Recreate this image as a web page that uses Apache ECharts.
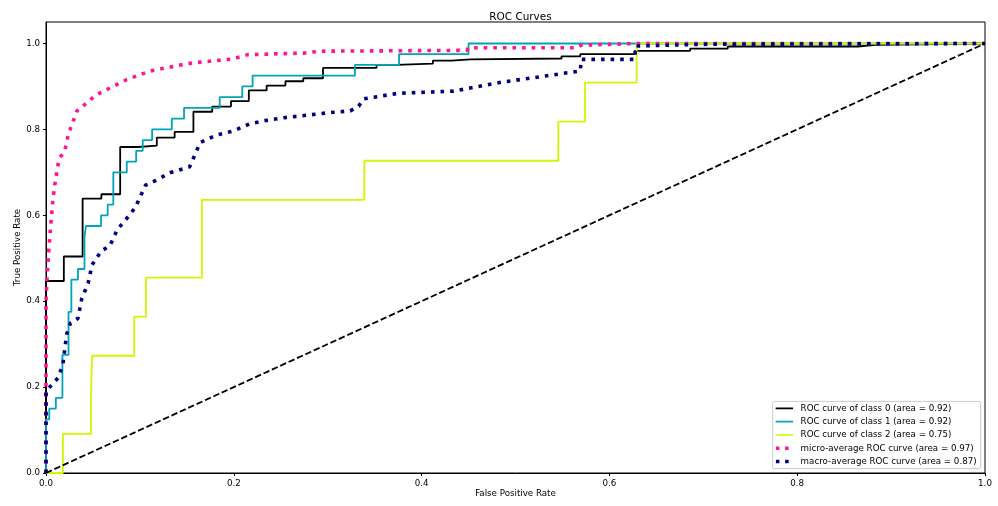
<!DOCTYPE html>
<html>
<head>
<meta charset="utf-8">
<script src="https://cdn.jsdelivr.net/npm/echarts@6/dist/echarts.min.js"></script>
<style>
html,body{margin:0;padding:0;background:#fff;}
#chart{width:998px;height:506px;}
</style>
</head>
<body>
<div id="chart"></div>
<script>
const titleText = 'ROC Curves';
const xName = 'False Positive Rate';
const yName = 'True Positive Rate';
const xTicks = [0, 0.2, 0.4, 0.6, 0.8, 1.0];
const yTicks = [0, 0.2, 0.4, 0.6, 0.8, 1.0];

const seriesNames = [
  'ROC curve of class 0 (area = 0.92)',
  'ROC curve of class 1 (area = 0.92)',
  'ROC curve of class 2 (area = 0.75)',
  'micro-average ROC curve (area = 0.97)',
  'macro-average ROC curve (area = 0.87)'
];

// [false positive rate, true positive rate]
const class0 = [[0,0],[0,0.447],[0.019,0.504],[0.039,0.639],[0.059,0.649],[0.079,0.759],[0.098,0.762],[0.118,0.781],[0.137,0.794],[0.157,0.841],[0.177,0.853],[0.197,0.866],[0.216,0.891],[0.235,0.902],[0.255,0.912],[0.274,0.919],[0.295,0.943],[0.352,0.950],[0.373,0.953],[0.412,0.960],[0.432,0.963],[0.452,0.965],[0.549,0.970],[0.569,0.975],[0.627,0.983],[0.686,0.988],[0.726,0.993],[0.865,0.997],[0.883,1.0],[1,1]];
const class1 = [[0,0],[0,0.125],[0.0035,0.150],[0.0105,0.175],[0.0175,0.275],[0.024,0.375],[0.027,0.450],[0.034,0.475],[0.041,0.550],[0.0426,0.575],[0.0586,0.600],[0.0657,0.625],[0.0717,0.700],[0.086,0.725],[0.096,0.750],[0.103,0.775],[0.113,0.800],[0.134,0.825],[0.147,0.850],[0.185,0.875],[0.209,0.900],[0.220,0.925],[0.329,0.950],[0.376,0.975],[0.450,1.0],[1,1]];
const class2 = [[0,0],[0.018,0.091],[0.048,0.182],[0.049,0.273],[0.094,0.364],[0.1065,0.455],[0.166,0.636],[0.339,0.727],[0.5456,0.818],[0.574,0.909],[0.629,1.0],[1,1]];
const microAvg = [[0,0],[0,0.40],[0.001,0.45],[0.003,0.52],[0.005,0.575],[0.0075,0.64],[0.010,0.68],[0.013,0.72],[0.015,0.735],[0.020,0.75],[0.024,0.79],[0.033,0.843],[0.054,0.881],[0.086,0.916],[0.111,0.936],[0.146,0.951],[0.157,0.955],[0.199,0.964],[0.215,0.974],[0.281,0.978],[0.288,0.982],[0.448,0.984],[0.450,0.990],[0.565,0.990],[0.570,0.996],[0.630,1.0],[1,1]];
const macroAvg = [[0,0],[0,0.191],[0.007,0.207],[0.013,0.222],[0.018,0.253],[0.022,0.323],[0.026,0.349],[0.034,0.360],[0.038,0.405],[0.045,0.443],[0.049,0.484],[0.059,0.517],[0.068,0.529],[0.076,0.567],[0.088,0.598],[0.095,0.618],[0.106,0.670],[0.116,0.680],[0.132,0.699],[0.153,0.713],[0.160,0.748],[0.164,0.769],[0.182,0.787],[0.199,0.796],[0.217,0.813],[0.235,0.821],[0.253,0.827],[0.302,0.839],[0.324,0.843],[0.333,0.854],[0.338,0.871],[0.375,0.884],[0.434,0.889],[0.483,0.909],[0.569,0.936],[0.570,0.963],[0.627,0.963],[0.628,0.994],[0.700,0.998],[1,1]];
const chance = [[0,0],[1,1]];

const colors = ['#000000', '#00a4bb', '#ccf900', '#ff1493', '#000080'];

const FONT = '"DejaVu Sans", sans-serif';
const lineIcon = 'path://M0,0h0.01v0.01h-0.01z M19.99,3.49h0.01v0.01h-0.01z M0,0.88h17.4v1.74h-17.4z';
const dotIcon = 'path://M0,0h0.01v0.01h-0.01z M19.99,3.49h0.01v0.01h-0.01z M0.3,0h3.5v3.5h-3.5z M9.5,0h3.5v3.5h-3.5z';

const chart = echarts.init(document.getElementById('chart'), null, {renderer: 'canvas'});

function axisCommon(ticks) {
  return {
    type: 'value', min: 0, interval: 0.2,
    axisLine: {show: true, onZero: false, lineStyle: {color: '#000', width: 1}},
    axisTick: {show: true, length: 3, lineStyle: {color: '#000', width: 1}, customValues: ticks},
    axisLabel: {show: true, margin: 6, color: '#000', fontFamily: FONT, fontSize: 8.7,
      customValues: ticks, formatter: v => v.toFixed(1)},
    splitLine: {show: false},
    nameLocation: 'middle',
    nameMoveOverlap: false,
    nameTextStyle: {color: '#000', fontFamily: FONT, fontSize: 8.7}
  };
}

const stepLine = (name, data, color) => ({
  name, type: 'line', data, step: 'end', showSymbol: false, symbol: 'none',
  lineStyle: {color, width: 1.8}, itemStyle: {color}, animation: false
});
const dotLine = (name, data, color) => ({
  name, type: 'line', data, showSymbol: false, symbol: 'none',
  lineStyle: {color, width: 3.6, type: [3.6, 6], cap: 'butt'}, itemStyle: {color}, animation: false
});

chart.setOption({
  animation: false,
  backgroundColor: '#fff',
  title: {
    text: titleText, left: 515.5, top: 7, textAlign: 'center',
    textStyle: {fontFamily: FONT, fontSize: 10.45, fontWeight: 'normal', color: '#000'}
  },
  grid: {left: 46, right: 13, top: 22, bottom: 33, show: true, borderColor: '#000', borderWidth: 1, backgroundColor: 'transparent'},
  xAxis: Object.assign(axisCommon(xTicks), {max: 1, name: xName, nameGap: 16}),
  yAxis: Object.assign(axisCommon(yTicks), {max: 1.05, name: yName, nameGap: 24}),
  legend: {
    orient: 'vertical', right: 17.4, bottom: 37.4,
    backgroundColor: 'rgba(255,255,255,0.8)', borderColor: '#cccccc', borderWidth: 1, borderRadius: 2,
    padding: [2.5, 4, 2.5, 3], itemGap: 4.3, itemWidth: 20, itemHeight: 3.5,
    selectedMode: false,
    itemStyle: {borderWidth: 0},
    textStyle: {fontFamily: FONT, fontSize: 8.7, color: '#000', lineHeight: 9},
    data: [
      {name: seriesNames[0], icon: lineIcon},
      {name: seriesNames[1], icon: lineIcon},
      {name: seriesNames[2], icon: lineIcon},
      {name: seriesNames[3], icon: dotIcon},
      {name: seriesNames[4], icon: dotIcon}
    ]
  },
  series: [
    stepLine(seriesNames[0], class0, colors[0]),
    stepLine(seriesNames[1], class1, colors[1]),
    stepLine(seriesNames[2], class2, colors[2]),
    dotLine(seriesNames[3], microAvg, colors[3]),
    dotLine(seriesNames[4], macroAvg, colors[4]),
    {name: 'chance', type: 'line', data: chance, showSymbol: false, symbol: 'none',
     lineStyle: {color: '#000', width: 1.8, type: [6.4, 2.8], cap: 'butt'}, animation: false}
  ]
});
</script>
</body>
</html>
